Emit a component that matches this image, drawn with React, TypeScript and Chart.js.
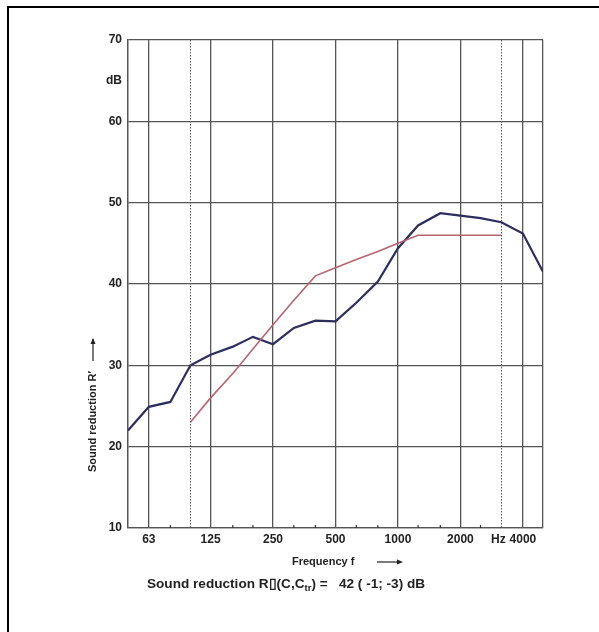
import React, { useEffect, useRef } from "react";
import { Chart, registerables } from "chart.js";

Chart.register(...registerables);

// One-third octave band centre frequencies (Hz)
const bandFreqs = [50, 63, 80, 100, 125, 160, 200, 250, 315, 400, 500, 630, 800, 1000, 1250, 1600, 2000, 2500, 3150, 4000, 5000];
// Measured sound reduction (dB)
const measuredDb = [22.0, 24.9, 25.5, 30.0, 31.3, 32.3, 33.5, 32.6, 34.6, 35.5, 35.4, 37.7, 40.3, 44.4, 47.2, 48.7, 48.4, 48.1, 47.6, 46.2, 41.5];
// Shifted reference curve (ISO 717-1)
const refFreqs = [100, 125, 160, 200, 250, 315, 400, 500, 630, 800, 1000, 1250, 1600, 2000, 2500, 3150];
const refDb = [23, 26, 29, 32, 35, 38, 41, 42, 43, 44, 45, 46, 46, 46, 46, 46];

// Axis setup
const xMin = 50;
const xMax = 5000;
const yMin = 10;
const yMax = 70;
const solidGridFreqs = [50, 63, 125, 250, 500, 1000, 2000, 4000, 5000];
const dottedGridFreqs = [100, 3150];
const xLabelFreqs = [63, 125, 250, 500, 1000, 2000, 3150, 4000];
const xLabels = ["63", "125", "250", "500", "1000", "2000", "Hz\u2002", "4000"];
const yLabelValues = [10, 20, 30, 40, 50, 60, 65, 70];
const yLabels = ["10", "20", "30", "40", "50", "60", "dB", "70"];

const FONT = "'Liberation Sans', Arial, sans-serif";
const GRID = "#555555";
const TEXT = "#222222";

const overlay = {
  id: "overlay",
  afterDatasetsDraw(chart: any) {
    const { ctx, chartArea, scales } = chart;
    const xs = scales.x;
    ctx.save();
    // dotted lines
    ctx.strokeStyle = GRID;
    ctx.lineWidth = 1;
    ctx.setLineDash([1.5, 1.5]);
    dottedGridFreqs.forEach((f) => {
      const px = Math.round(xs.getPixelForValue(f)) + 0.5;
      ctx.beginPath();
      ctx.moveTo(px, chartArea.top);
      ctx.lineTo(px, chartArea.bottom);
      ctx.stroke();
    });
    ctx.setLineDash([]);
    // minor ticks inside bottom axis
    ctx.strokeStyle = "#333";
    ctx.lineWidth = 1.2;
    bandFreqs.forEach((f) => {
      if (solidGridFreqs.includes(f) || dottedGridFreqs.includes(f)) return;
      const px = xs.getPixelForValue(f);
      ctx.beginPath();
      ctx.moveTo(px, chartArea.bottom);
      ctx.lineTo(px, chartArea.bottom - 3);
      ctx.stroke();
    });
    ctx.restore();
  },
  afterDraw(chart: any) {
    const { ctx } = chart;
    ctx.save();
    ctx.fillStyle = TEXT;
    ctx.strokeStyle = TEXT;
    // Y title rotated
    ctx.save();
    ctx.translate(93, 472);
    ctx.rotate(-Math.PI / 2);
    ctx.font = `bold 11px ${FONT}`;
    ctx.textAlign = "left";
    ctx.textBaseline = "middle";
    const yt = "Sound reduction R\u2032";
    ctx.fillText(yt, 0, 0);
    const yw = ctx.measureText(yt).width;
    const a0 = yw + 10;
    const a1 = a0 + 22;
    ctx.lineWidth = 1.2;
    ctx.beginPath();
    ctx.moveTo(a0, 0);
    ctx.lineTo(a1, 0);
    ctx.stroke();
    ctx.beginPath();
    ctx.moveTo(a1 + 1, 0);
    ctx.lineTo(a1 - 5, -2.5);
    ctx.lineTo(a1 - 5, 2.5);
    ctx.closePath();
    ctx.fill();
    ctx.restore();

    // X title
    ctx.font = `bold 11px ${FONT}`;
    ctx.textAlign = "left";
    ctx.textBaseline = "middle";
    ctx.fillText("Frequency f", 292, 562);
    ctx.lineWidth = 1.2;
    ctx.beginPath();
    ctx.moveTo(377, 562);
    ctx.lineTo(400, 562);
    ctx.stroke();
    ctx.beginPath();
    ctx.moveTo(403, 562);
    ctx.lineTo(397, 559.5);
    ctx.lineTo(397, 564.5);
    ctx.closePath();
    ctx.fill();

    // Formula line
    const big = `bold 13.6px ${FONT}`;
    const small = `bold 9.5px ${FONT}`;
    let x = 147;
    const y = 584;
    ctx.font = big;
    const p1 = "Sound reduction R\u25AF(C,C";
    ctx.fillText(p1, x, y);
    x += ctx.measureText(p1).width;
    ctx.font = small;
    ctx.fillText("tr", x, y + 4);
    x += ctx.measureText("tr").width;
    ctx.font = big;
    ctx.fillText(") =   42 ( -1; -3) dB", x, y);
    ctx.restore();
  },
};

export default function App() {
  const ref = useRef<HTMLCanvasElement | null>(null);
  useEffect(() => {
    if (!ref.current) return;
    const chart = new Chart(ref.current, {
      type: "line",
      data: {
        datasets: [
          {
            label: "Reference",
            data: refFreqs.map((f, i) => ({ x: f, y: refDb[i] })),
            borderColor: "#b8646f",
            borderWidth: 1.6,
            pointRadius: 0,
            tension: 0,
          },
          {
            label: "Measured",
            data: bandFreqs.map((f, i) => ({ x: f, y: measuredDb[i] })),
            borderColor: "#2c2e5e",
            borderWidth: 2.2,
            pointRadius: 0,
            tension: 0,
          },
        ],
      },
      options: {
        responsive: false,
        animation: false,
        devicePixelRatio: 1,
        layout: { padding: { left: 0, top: 40, right: 56, bottom: 0 } },
        plugins: { legend: { display: false }, tooltip: { enabled: false }, title: { display: false } },
        scales: {
          x: {
            type: "logarithmic",
            min: xMin,
            max: xMax,
            afterBuildTicks: (scale: any) => {
              const vals = Array.from(new Set([...bandFreqs, ...solidGridFreqs])).sort((a, b) => a - b);
              scale.ticks = vals.map((v) => ({ value: v }));
            },
            afterFit: (scale: any) => {
              scale.height = 104;
            },
            ticks: {
              autoSkip: false,
              maxRotation: 0,
              padding: 4,
              color: TEXT,
              font: { family: FONT, size: 12, weight: "bold" },
              callback: (v: any) => {
                const i = xLabelFreqs.indexOf(Number(v));
                return i >= 0 ? xLabels[i] : "";
              },
            },
            grid: {
              drawTicks: false,
              lineWidth: 1.3,
              color: (c: any) => (c.tick && solidGridFreqs.includes(c.tick.value) ? GRID : "rgba(0,0,0,0)"),
            },
            border: { display: true, color: GRID, width: 1.3 },
          },
          y: {
            type: "linear",
            min: yMin,
            max: yMax,
            afterBuildTicks: (scale: any) => {
              scale.ticks = yLabelValues.map((v) => ({ value: v }));
            },
            afterFit: (scale: any) => {
              scale.width = 128;
            },
            ticks: {
              autoSkip: false,
              padding: 6,
              color: TEXT,
              font: { family: FONT, size: 12, weight: "bold" },
              callback: (v: any) => {
                const i = yLabelValues.indexOf(Number(v));
                return i >= 0 ? yLabels[i] : "";
              },
            },
            grid: {
              drawTicks: false,
              lineWidth: 1.3,
              color: (c: any) => (c.tick && c.tick.value % 10 === 0 ? GRID : "rgba(0,0,0,0)"),
            },
            border: { display: true, color: GRID, width: 1.3 },
          },
        },
      },
      plugins: [overlay],
    });
    return () => chart.destroy();
  }, []);

  return (
    <div style={{ position: "absolute", left: 0, top: 0, width: 599, height: 632, background: "#fff" }}>
      <canvas ref={ref} width={599} height={632} style={{ position: "absolute", left: 0, top: 0, width: 599, height: 632 }} />
      <div style={{ position: "absolute", left: 7, top: 6, width: 2, height: 626, background: "#000" }} />
      <div style={{ position: "absolute", left: 7, top: 6, width: 592, height: 2, background: "#000" }} />
    </div>
  );
}
